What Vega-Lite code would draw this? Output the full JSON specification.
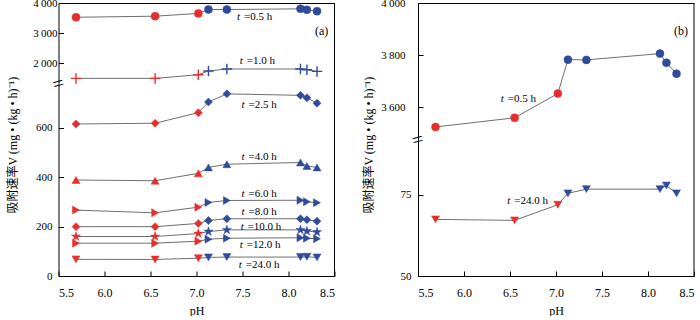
{
  "$schema": "https://vega.github.io/schema/vega-lite/v6.json",
  "autosize": {"type": "pad"},
  "padding": {"left": 5.5, "top": -3, "right": 0, "bottom": 0},
  "background": "white",
  "config": {
    "view": {"stroke": null},
    "font": "Liberation Serif, Times New Roman, serif",
    "axis": {"grid": false, "domainColor": "black", "domainWidth": 1, "tickColor": "black", "tickSize": -5, "tickWidth": 1,
      "labelFont": "Liberation Serif, Times New Roman, serif", "labelFontSize": 11, "labelColor": "black",
      "titleFont": "Liberation Serif, Noto Sans CJK SC", "titleFontSize": 12, "titleFontWeight": "normal", "titleColor": "black"},
    "text": {"font": "Liberation Serif, Times New Roman, serif", "fontSize": 11, "color": "black"}
  },
  "datasets": {
    "pts": [
      {"t": "0.5", "pH": 5.69, "V": 3525}, {"t": "0.5", "pH": 6.55, "V": 3560}, {"t": "0.5", "pH": 7.02, "V": 3653}, {"t": "0.5", "pH": 7.13, "V": 3783},
      {"t": "0.5", "pH": 7.33, "V": 3782}, {"t": "0.5", "pH": 8.13, "V": 3806}, {"t": "0.5", "pH": 8.2, "V": 3771}, {"t": "0.5", "pH": 8.31, "V": 3729},
      {"t": "1.0", "pH": 5.69, "V": 1487}, {"t": "1.0", "pH": 6.55, "V": 1487}, {"t": "1.0", "pH": 7.02, "V": 1610}, {"t": "1.0", "pH": 7.13, "V": 1733},
      {"t": "1.0", "pH": 7.33, "V": 1800}, {"t": "1.0", "pH": 8.13, "V": 1800}, {"t": "1.0", "pH": 8.2, "V": 1777}, {"t": "1.0", "pH": 8.31, "V": 1720},
      {"t": "2.5", "pH": 5.69, "V": 616}, {"t": "2.5", "pH": 6.55, "V": 619}, {"t": "2.5", "pH": 7.02, "V": 662}, {"t": "2.5", "pH": 7.13, "V": 705},
      {"t": "2.5", "pH": 7.33, "V": 738}, {"t": "2.5", "pH": 8.13, "V": 732}, {"t": "2.5", "pH": 8.2, "V": 722}, {"t": "2.5", "pH": 8.31, "V": 700},
      {"t": "4.0", "pH": 5.69, "V": 389}, {"t": "4.0", "pH": 6.55, "V": 386}, {"t": "4.0", "pH": 7.02, "V": 416}, {"t": "4.0", "pH": 7.13, "V": 440},
      {"t": "4.0", "pH": 7.33, "V": 453}, {"t": "4.0", "pH": 8.13, "V": 460}, {"t": "4.0", "pH": 8.2, "V": 446}, {"t": "4.0", "pH": 8.31, "V": 440},
      {"t": "6.0", "pH": 5.69, "V": 267}, {"t": "6.0", "pH": 6.55, "V": 256}, {"t": "6.0", "pH": 7.02, "V": 279}, {"t": "6.0", "pH": 7.13, "V": 298},
      {"t": "6.0", "pH": 7.33, "V": 306}, {"t": "6.0", "pH": 8.13, "V": 307}, {"t": "6.0", "pH": 8.2, "V": 301}, {"t": "6.0", "pH": 8.31, "V": 297},
      {"t": "8.0", "pH": 5.69, "V": 200}, {"t": "8.0", "pH": 6.55, "V": 200}, {"t": "8.0", "pH": 7.02, "V": 213}, {"t": "8.0", "pH": 7.13, "V": 225},
      {"t": "8.0", "pH": 7.33, "V": 232}, {"t": "8.0", "pH": 8.13, "V": 232}, {"t": "8.0", "pH": 8.2, "V": 228}, {"t": "8.0", "pH": 8.31, "V": 222},
      {"t": "10.0", "pH": 5.69, "V": 160}, {"t": "10.0", "pH": 6.55, "V": 160}, {"t": "10.0", "pH": 7.02, "V": 172}, {"t": "10.0", "pH": 7.13, "V": 180},
      {"t": "10.0", "pH": 7.33, "V": 187}, {"t": "10.0", "pH": 8.13, "V": 187}, {"t": "10.0", "pH": 8.2, "V": 182}, {"t": "10.0", "pH": 8.31, "V": 178},
      {"t": "12.0", "pH": 5.69, "V": 133}, {"t": "12.0", "pH": 6.55, "V": 133}, {"t": "12.0", "pH": 7.02, "V": 141}, {"t": "12.0", "pH": 7.13, "V": 149},
      {"t": "12.0", "pH": 7.33, "V": 153}, {"t": "12.0", "pH": 8.13, "V": 155}, {"t": "12.0", "pH": 8.2, "V": 153}, {"t": "12.0", "pH": 8.31, "V": 151},
      {"t": "24.0", "pH": 5.69, "V": 67.4}, {"t": "24.0", "pH": 6.55, "V": 67.1}, {"t": "24.0", "pH": 7.02, "V": 71.9}, {"t": "24.0", "pH": 7.13, "V": 75.4},
      {"t": "24.0", "pH": 7.33, "V": 76.7}, {"t": "24.0", "pH": 8.13, "V": 76.7}, {"t": "24.0", "pH": 8.2, "V": 77.8}, {"t": "24.0", "pH": 8.31, "V": 75.4}
    ],
    "lab": [
      {"p": "a", "s": "top", "pH": 7.44, "V": 3533, "n": "=0.5 h"},
      {"p": "a", "s": "top", "pH": 7.47, "V": 2053, "n": "=1.0 h"},
      {"p": "a", "s": "bot", "pH": 7.49, "V": 694, "n": "=2.5 h"},
      {"p": "a", "s": "bot", "pH": 7.49, "V": 482, "n": "=4.0 h"},
      {"p": "a", "s": "bot", "pH": 7.49, "V": 331, "n": "=6.0 h"},
      {"p": "a", "s": "bot", "pH": 7.49, "V": 259, "n": "=8.0 h"},
      {"p": "a", "s": "bot", "pH": 7.48, "V": 197, "n": "=10.0 h"},
      {"p": "a", "s": "bot", "pH": 7.47, "V": 124, "n": "=12.0 h"},
      {"p": "a", "s": "bot", "pH": 7.46, "V": 46, "n": "=24.0 h"},
      {"p": "b", "s": "top", "pH": 6.40, "V": 3633, "n": "=0.5 h"},
      {"p": "b", "s": "bot", "pH": 6.47, "V": 72.9, "n": "=24.0 h"}
    ],
    "tags": [
      {"p": "a", "pH": 8.36, "V": 3053, "n": "(a)"},
      {"p": "b", "pH": 8.36, "V": 3893, "n": "(b)"}
    ]
  },
  "hconcat": [
    {
      "vconcat": [
        {
          "width": 276, "height": 81,
          "layer": [
            {"data": {"name": "pts"}, "transform": [{"filter": "datum.t == '0.5' || datum.t == '1.0'"}],
             "mark": {"type": "line", "color": "#6e6e6e", "strokeWidth": 1},
             "encoding": {
               "x": {"field": "pH", "type": "quantitative", "scale": {"domain": [5.5, 8.5], "nice": false, "zero": false}, "axis": {"orient": "top", "labels": false, "ticks": false, "title": null}},
               "y": {"field": "V", "type": "quantitative", "scale": {"domain": [1300, 4000], "nice": false, "zero": false}, "axis": {"values": [2000, 3000, 4000], "labelExpr": "replace(format(datum.value, ','), ',', '\u2009')", "title": null, "labelPadding": 6.5}},
               "detail": {"field": "t"}}},
            {"data": {"name": "pts"}, "transform": [{"filter": "datum.t == '0.5' || datum.t == '1.0'"}],
             "mark": {"type": "point", "filled": true, "opacity": 1},
             "encoding": {
               "x": {"field": "pH", "type": "quantitative", "scale": {"domain": [5.5, 8.5], "nice": false, "zero": false}},
               "y": {"field": "V", "type": "quantitative", "scale": {"domain": [1300, 4000], "nice": false, "zero": false}},
               "shape": {"field": "t", "type": "nominal", "legend": null, "scale": {"domain": ["0.5", "1.0", "2.5", "4.0", "6.0", "8.0", "10.0", "12.0", "24.0"], "range": ["circle", "M-1,0L1,0M0,-1L0,1", "diamond", "triangle-up", "triangle-right", "diamond", "M0,-1L0.225,-0.309L0.951,-0.309L0.363,0.118L0.588,0.809L0,0.382L-0.588,0.809L-0.363,0.118L-0.951,-0.309L-0.225,-0.309Z", "triangle-right", "triangle-down"]}},
               "fill": {"condition": {"test": "datum.pH < 7.08", "value": "#e62e2d"}, "value": "#2f4b9c"},
               "stroke": {"condition": {"test": "datum.pH < 7.08", "value": "#e62e2d"}, "value": "#2f4b9c"},
               "size": {"condition": {"test": "datum.t == '1.0'", "value": 110}, "value": 64},
               "strokeWidth": {"condition": {"test": "datum.t == '1.0'", "value": 1.4}, "value": 0.5}}},
            {"data": {"values": [{}]}, "mark": {"type": "rule", "color": "black", "strokeWidth": 1},
             "encoding": {"x": {"datum": 8.5, "type": "quantitative", "scale": {"domain": [5.5, 8.5], "nice": false, "zero": false}}}},
            {"data": {"name": "lab"}, "transform": [{"filter": "datum.p == 'a' && datum.s == 'top'"}],
             "mark": {"type": "text", "text": "t", "fontStyle": "italic", "align": "left", "baseline": "middle"},
             "encoding": {"x": {"field": "pH", "type": "quantitative", "scale": {"domain": [5.5, 8.5], "nice": false, "zero": false}}, "y": {"field": "V", "type": "quantitative", "scale": {"domain": [1300, 4000], "nice": false, "zero": false}}}},
            {"data": {"name": "lab"}, "transform": [{"filter": "datum.p == 'a' && datum.s == 'top'"}],
             "mark": {"type": "text", "align": "left", "baseline": "middle", "dx": 7},
             "encoding": {"x": {"field": "pH", "type": "quantitative", "scale": {"domain": [5.5, 8.5], "nice": false, "zero": false}}, "y": {"field": "V", "type": "quantitative", "scale": {"domain": [1300, 4000], "nice": false, "zero": false}}, "text": {"field": "n"}}},
            {"data": {"name": "tags"}, "transform": [{"filter": "datum.p == 'a'"}],
             "mark": {"type": "text", "align": "center", "baseline": "middle", "fontSize": 12},
             "encoding": {"x": {"field": "pH", "type": "quantitative", "scale": {"domain": [5.5, 8.5], "nice": false, "zero": false}}, "y": {"field": "V", "type": "quantitative", "scale": {"domain": [1300, 4000], "nice": false, "zero": false}}, "text": {"field": "n"}}},
            {"data": {"values": [{}]}, "mark": {"type": "text", "text": "=", "fontSize": 20, "angle": -15, "align": "center", "baseline": "middle", "clip": false},
             "encoding": {"x": {"datum": 5.5, "type": "quantitative", "scale": {"domain": [5.5, 8.5], "nice": false, "zero": false}}, "y": {"datum": 1300, "type": "quantitative", "scale": {"domain": [1300, 4000], "nice": false, "zero": false}}}}
          ]
        },
        {
          "width": 276, "height": 192,
          "layer": [
            {"data": {"name": "pts"}, "transform": [{"filter": "datum.t != '0.5' && datum.t != '1.0'"}],
             "mark": {"type": "line", "color": "#6e6e6e", "strokeWidth": 1},
             "encoding": {
               "x": {"field": "pH", "type": "quantitative", "scale": {"domain": [5.5, 8.5], "nice": false, "zero": false}, "axis": {"values": [5.5, 6, 6.5, 7, 7.5, 8, 8.5], "format": ".1f", "title": "pH", "labelFontSize": 12, "labelPadding": 16, "titlePadding": 7}},
               "y": {"field": "V", "type": "quantitative", "scale": {"domain": [0, 778], "nice": false, "zero": false}, "axis": {"values": [0, 200, 400, 600], "title": "吸附速率V (mg • (kg • h)⁻¹)", "titleX": -39, "titleY": 60.7, "labelPadding": 11.5}},
               "detail": {"field": "t"}}},
            {"data": {"name": "pts"}, "transform": [{"filter": "datum.t != '0.5' && datum.t != '1.0'"}],
             "mark": {"type": "point", "filled": true, "opacity": 1},
             "encoding": {
               "x": {"field": "pH", "type": "quantitative", "scale": {"domain": [5.5, 8.5], "nice": false, "zero": false}},
               "y": {"field": "V", "type": "quantitative", "scale": {"domain": [0, 778], "nice": false, "zero": false}},
               "shape": {"field": "t", "type": "nominal", "legend": null, "scale": {"domain": ["0.5", "1.0", "2.5", "4.0", "6.0", "8.0", "10.0", "12.0", "24.0"], "range": ["circle", "M-1,0L1,0M0,-1L0,1", "diamond", "triangle-up", "triangle-right", "diamond", "M0,-1L0.225,-0.309L0.951,-0.309L0.363,0.118L0.588,0.809L0,0.382L-0.588,0.809L-0.363,0.118L-0.951,-0.309L-0.225,-0.309Z", "triangle-right", "triangle-down"]}},
               "fill": {"condition": {"test": "datum.pH < 7.08", "value": "#e62e2d"}, "value": "#2f4b9c"},
               "stroke": {"condition": {"test": "datum.pH < 7.08", "value": "#e62e2d"}, "value": "#2f4b9c"},
               "size": {"condition": {"test": "datum.t == '10.0'", "value": 90}, "value": 64},
               "strokeWidth": {"value": 0.5}}},
            {"data": {"values": [{}]}, "mark": {"type": "rule", "color": "black", "strokeWidth": 1},
             "encoding": {"x": {"datum": 8.5, "type": "quantitative", "scale": {"domain": [5.5, 8.5], "nice": false, "zero": false}}}},
            {"data": {"name": "lab"}, "transform": [{"filter": "datum.p == 'a' && datum.s == 'bot'"}],
             "mark": {"type": "text", "text": "t", "fontStyle": "italic", "align": "left", "baseline": "middle"},
             "encoding": {"x": {"field": "pH", "type": "quantitative", "scale": {"domain": [5.5, 8.5], "nice": false, "zero": false}}, "y": {"field": "V", "type": "quantitative", "scale": {"domain": [0, 778], "nice": false, "zero": false}}}},
            {"data": {"name": "lab"}, "transform": [{"filter": "datum.p == 'a' && datum.s == 'bot'"}],
             "mark": {"type": "text", "align": "left", "baseline": "middle", "dx": 7},
             "encoding": {"x": {"field": "pH", "type": "quantitative", "scale": {"domain": [5.5, 8.5], "nice": false, "zero": false}}, "y": {"field": "V", "type": "quantitative", "scale": {"domain": [0, 778], "nice": false, "zero": false}}, "text": {"field": "n"}}}
          ]
        }
      ],
      "spacing": 0,
      "bounds": "flush",
      "resolve": {"scale": {"x": "independent", "y": "independent"}}
    },
    {
      "vconcat": [
        {
          "width": 276, "height": 137,
          "layer": [
            {"data": {"name": "pts"}, "transform": [{"filter": "datum.t == '0.5'"}],
             "mark": {"type": "line", "color": "#6e6e6e", "strokeWidth": 1},
             "encoding": {
               "x": {"field": "pH", "type": "quantitative", "scale": {"domain": [5.5, 8.5], "nice": false, "zero": false}, "axis": {"orient": "top", "labels": false, "ticks": false, "title": null}},
               "y": {"field": "V", "type": "quantitative", "scale": {"domain": [3475, 4000], "nice": false, "zero": false}, "axis": {"values": [3600, 3800, 4000], "labelExpr": "replace(format(datum.value, ','), ',', '\u2009')", "title": null, "labelPadding": 18}},
               "detail": {"field": "t"}}},
            {"data": {"name": "pts"}, "transform": [{"filter": "datum.t == '0.5'"}],
             "mark": {"type": "point", "filled": true, "opacity": 1, "shape": "circle", "size": 64, "strokeWidth": 0.5},
             "encoding": {
               "x": {"field": "pH", "type": "quantitative", "scale": {"domain": [5.5, 8.5], "nice": false, "zero": false}},
               "y": {"field": "V", "type": "quantitative", "scale": {"domain": [3475, 4000], "nice": false, "zero": false}},
               "fill": {"condition": {"test": "datum.pH < 7.08", "value": "#e62e2d"}, "value": "#2f4b9c"},
               "stroke": {"condition": {"test": "datum.pH < 7.08", "value": "#e62e2d"}, "value": "#2f4b9c"}}},
            {"data": {"values": [{}]}, "mark": {"type": "rule", "color": "black", "strokeWidth": 1},
             "encoding": {"x": {"datum": 8.5, "type": "quantitative", "scale": {"domain": [5.5, 8.5], "nice": false, "zero": false}}}},
            {"data": {"name": "lab"}, "transform": [{"filter": "datum.p == 'b' && datum.s == 'top'"}],
             "mark": {"type": "text", "text": "t", "fontStyle": "italic", "align": "left", "baseline": "middle"},
             "encoding": {"x": {"field": "pH", "type": "quantitative", "scale": {"domain": [5.5, 8.5], "nice": false, "zero": false}}, "y": {"field": "V", "type": "quantitative", "scale": {"domain": [3475, 4000], "nice": false, "zero": false}}}},
            {"data": {"name": "lab"}, "transform": [{"filter": "datum.p == 'b' && datum.s == 'top'"}],
             "mark": {"type": "text", "align": "left", "baseline": "middle", "dx": 7},
             "encoding": {"x": {"field": "pH", "type": "quantitative", "scale": {"domain": [5.5, 8.5], "nice": false, "zero": false}}, "y": {"field": "V", "type": "quantitative", "scale": {"domain": [3475, 4000], "nice": false, "zero": false}}, "text": {"field": "n"}}},
            {"data": {"name": "tags"}, "transform": [{"filter": "datum.p == 'b'"}],
             "mark": {"type": "text", "align": "center", "baseline": "middle", "fontSize": 12},
             "encoding": {"x": {"field": "pH", "type": "quantitative", "scale": {"domain": [5.5, 8.5], "nice": false, "zero": false}}, "y": {"field": "V", "type": "quantitative", "scale": {"domain": [3475, 4000], "nice": false, "zero": false}}, "text": {"field": "n"}}},
            {"data": {"values": [{}]}, "mark": {"type": "text", "text": "=", "fontSize": 20, "angle": -15, "align": "center", "baseline": "middle", "clip": false},
             "encoding": {"x": {"datum": 5.5, "type": "quantitative", "scale": {"domain": [5.5, 8.5], "nice": false, "zero": false}}, "y": {"datum": 3475, "type": "quantitative", "scale": {"domain": [3475, 4000], "nice": false, "zero": false}}}}
          ]
        },
        {
          "width": 276, "height": 136,
          "layer": [
            {"data": {"name": "pts"}, "transform": [{"filter": "datum.t == '24.0'"}],
             "mark": {"type": "line", "color": "#6e6e6e", "strokeWidth": 1},
             "encoding": {
               "x": {"field": "pH", "type": "quantitative", "scale": {"domain": [5.5, 8.5], "nice": false, "zero": false}, "axis": {"values": [5.5, 6, 6.5, 7, 7.5, 8, 8.5], "format": ".1f", "title": "pH", "labelFontSize": 12, "labelPadding": 16, "titlePadding": 7}},
               "y": {"field": "V", "type": "quantitative", "scale": {"domain": [50, 91.8], "nice": false, "zero": false}, "axis": {"values": [50, 75], "title": "吸附速率V (mg • (kg • h)⁻¹)", "titleX": -42.5, "titleY": 4.7, "labelPadding": 12}},
               "detail": {"field": "t"}}},
            {"data": {"name": "pts"}, "transform": [{"filter": "datum.t == '24.0'"}],
             "mark": {"type": "point", "filled": true, "opacity": 1, "shape": "triangle-down", "size": 64, "strokeWidth": 0.5},
             "encoding": {
               "x": {"field": "pH", "type": "quantitative", "scale": {"domain": [5.5, 8.5], "nice": false, "zero": false}},
               "y": {"field": "V", "type": "quantitative", "scale": {"domain": [50, 91.8], "nice": false, "zero": false}},
               "fill": {"condition": {"test": "datum.pH < 7.08", "value": "#e62e2d"}, "value": "#2f4b9c"},
               "stroke": {"condition": {"test": "datum.pH < 7.08", "value": "#e62e2d"}, "value": "#2f4b9c"}}},
            {"data": {"values": [{}]}, "mark": {"type": "rule", "color": "black", "strokeWidth": 1},
             "encoding": {"x": {"datum": 8.5, "type": "quantitative", "scale": {"domain": [5.5, 8.5], "nice": false, "zero": false}}}},
            {"data": {"name": "lab"}, "transform": [{"filter": "datum.p == 'b' && datum.s == 'bot'"}],
             "mark": {"type": "text", "text": "t", "fontStyle": "italic", "align": "left", "baseline": "middle"},
             "encoding": {"x": {"field": "pH", "type": "quantitative", "scale": {"domain": [5.5, 8.5], "nice": false, "zero": false}}, "y": {"field": "V", "type": "quantitative", "scale": {"domain": [50, 91.8], "nice": false, "zero": false}}}},
            {"data": {"name": "lab"}, "transform": [{"filter": "datum.p == 'b' && datum.s == 'bot'"}],
             "mark": {"type": "text", "align": "left", "baseline": "middle", "dx": 7},
             "encoding": {"x": {"field": "pH", "type": "quantitative", "scale": {"domain": [5.5, 8.5], "nice": false, "zero": false}}, "y": {"field": "V", "type": "quantitative", "scale": {"domain": [50, 91.8], "nice": false, "zero": false}}, "text": {"field": "n"}}}
          ]
        }
      ],
      "spacing": 0,
      "bounds": "flush",
      "resolve": {"scale": {"x": "independent", "y": "independent"}}
    }
  ],
  "spacing": 26.5,
  "resolve": {"scale": {"x": "independent", "y": "independent"}}
}
